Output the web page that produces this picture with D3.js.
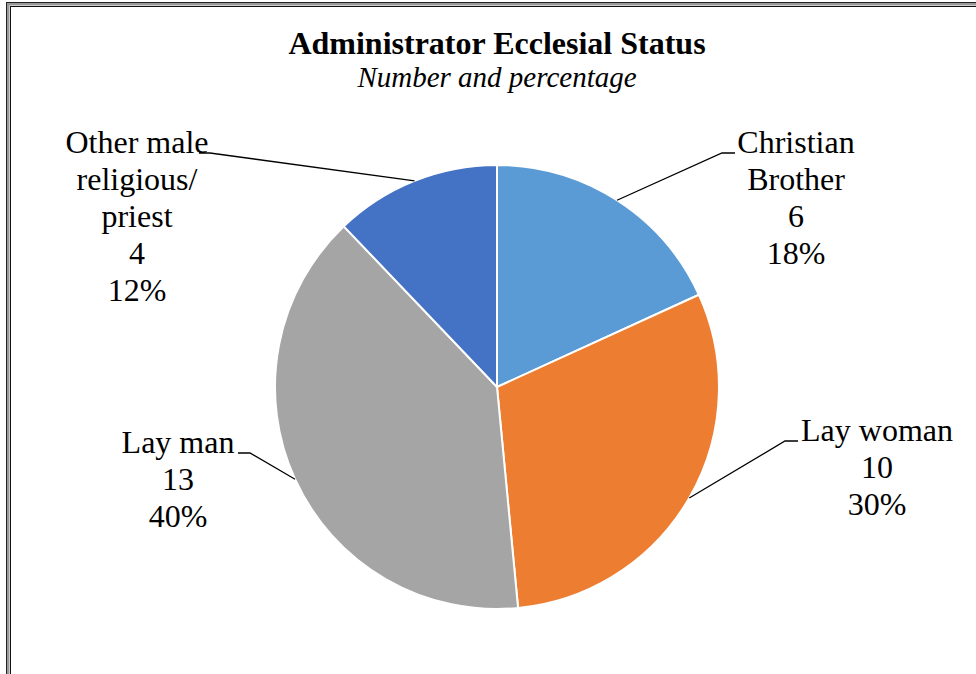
<!DOCTYPE html>
<html><head><meta charset="utf-8">
<script src="https://cdn.jsdelivr.net/npm/d3@7"></script>
<style>body{margin:0;background:#fff}svg{display:block}</style>
</head><body>
<svg id="chart" width="976" height="674"></svg>
<script>
const categories = ["Christian Brother", "Lay woman", "Lay man", "Other male religious/ priest"];
const counts = [6, 10, 13, 4];
const percentLabels = ["18%", "30%", "40%", "12%"];
const nameLines = [["Christian", "Brother"], ["Lay woman"], ["Lay man"], ["Other male", "religious/", "priest"]];
const colors = ["#5B9BD5", "#ED7D31", "#A5A5A5", "#4472C4"];

// label layout (center x, first baseline, elbow point, end of horizontal stub)
const labelLayout = [
  {x: 796, y: 153, ex: 722, ey: 153, hx: 735},
  {x: 877, y: 441, ex: 785, ey: 441, hx: 798},
  {x: 178, y: 453, ex: 250, ey: 453, hx: 238},
  {x: 137, y: 153, ex: 210, ey: 153, hx: 199}
];

const svg = d3.select("#chart");
const W = 976, H = 674;
const cx = 497, cy = 387, R = 222;
const serif = "Liberation Serif";

// frame
svg.append("rect").attr("x", 8).attr("y", 4).attr("width", W + 20).attr("height", H + 20)
  .attr("fill", "none").attr("stroke", "#999").attr("stroke-width", 3);
svg.append("rect").attr("x", 6.5).attr("y", 2.5).attr("width", W + 20).attr("height", H + 20)
  .attr("fill", "none").attr("stroke", "#222").attr("stroke-width", 1);
svg.append("rect").attr("x", 10.5).attr("y", 6.5).attr("width", W + 20).attr("height", H + 20)
  .attr("fill", "none").attr("stroke", "#111").attr("stroke-width", 1);

// titles
svg.append("text").attr("x", cx).attr("y", 54).attr("text-anchor", "middle")
  .style("font-family", serif).style("font-weight", "bold").style("font-size", "32px")
  .text("Administrator Ecclesial Status");
svg.append("text").attr("x", cx).attr("y", 87).attr("text-anchor", "middle")
  .style("font-family", serif).style("font-style", "italic").style("font-size", "29px")
  .text("Number and percentage");

const pie = d3.pie().sort(null).value(d => d)(counts);
const arc = d3.arc().innerRadius(0).outerRadius(R);
const edge = d3.arc().innerRadius(R).outerRadius(R);

const g = svg.append("g").attr("transform", `translate(${cx},${cy})`);
g.selectAll("path.slice").data(pie).join("path").attr("class", "slice")
  .attr("d", arc).attr("fill", (d, i) => colors[i])
  .attr("stroke", "#fff").attr("stroke-width", 2).attr("stroke-linejoin", "round");

// leader lines
pie.forEach((d, i) => {
  const [px, py] = edge.centroid(d);
  const L = labelLayout[i];
  svg.append("polyline")
    .attr("points", `${cx + px},${cy + py} ${L.ex},${L.ey} ${L.hx},${L.ey}`)
    .attr("fill", "none").attr("stroke", "#000").attr("stroke-width", 1.3);
});

// labels
pie.forEach((d, i) => {
  const L = labelLayout[i];
  const lines = nameLines[i].concat([String(counts[i]), percentLabels[i]]);
  const t = svg.append("text").attr("text-anchor", "middle")
    .style("font-family", serif).style("font-size", "32px").attr("fill", "#000");
  lines.forEach((s, k) => {
    t.append("tspan").attr("x", L.x).attr("y", L.y + k * 37).text(s);
  });
});
</script>
</body></html>
